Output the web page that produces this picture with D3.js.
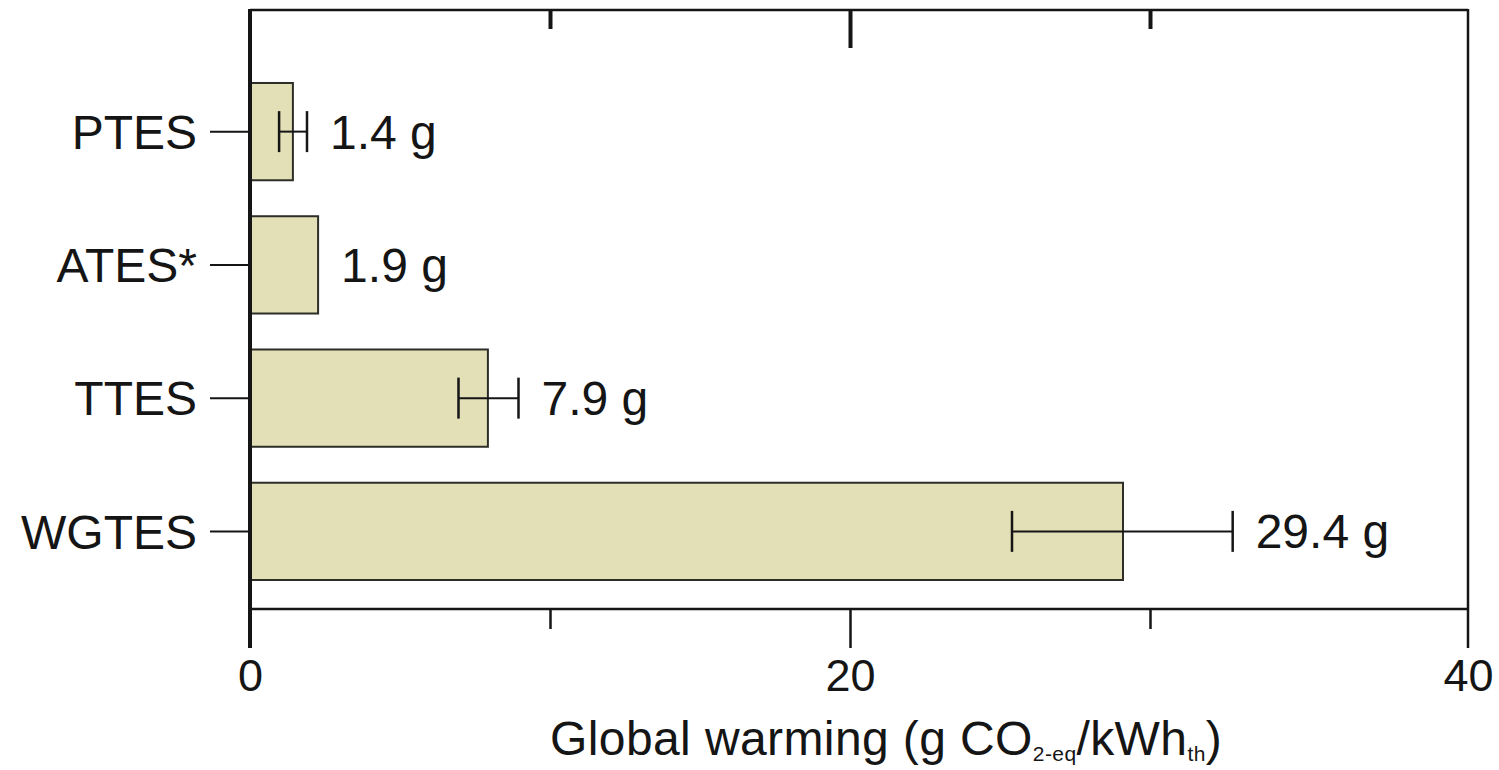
<!DOCTYPE html>
<html><head><meta charset="utf-8">
<script src="https://cdn.jsdelivr.net/npm/d3@7"></script>
<style>
html,body{margin:0;padding:0;background:#fff;}
svg{display:block;font-family:"Liberation Sans",Arial,sans-serif;}
</style></head>
<body><svg id="c" width="1499" height="770"></svg>
<script>
const categories = ["PTES", "ATES*", "TTES", "WGTES"];
const values = [1.43, 2.27, 7.93, 29.1];
const errLow = [0.97, null, 6.95, 25.4];
const errHigh = [1.9, null, 8.95, 32.6];
const valueLabels = ["1.4 g", "1.9 g", "7.9 g", "29.4 g"];
const majorTicks = [0, 20, 40];
const minorTicks = [10, 30];

(function(){
const svg = d3.select("#c");
const x = d3.scaleLinear().domain([0, 30, 40]).range([250, 1150, 1468]);
const y = d3.scaleBand().domain(categories).range([65, 598]).paddingInner(0.27).paddingOuter(0.135);
const yTop = 10, yBottom = 609;
const ink = "#151515";

// bars
svg.selectAll("rect.bar").data(categories).enter().append("rect")
  .attr("class","bar")
  .attr("x", x(0)).attr("y", d => y(d))
  .attr("width", (d,i) => x(values[i]) - x(0))
  .attr("height", y.bandwidth())
  .attr("fill", "#e3dfb6").attr("stroke", "#2e2e28").attr("stroke-width", 2);

// error bars
const eb = categories.map((c,i)=>({c, lo: errLow[i], hi: errHigh[i]})).filter(d => d.lo !== null);
const cy = d => y(d.c) + y.bandwidth()/2;
svg.selectAll("line.err").data(eb).enter().append("line")
  .attr("x1", d => x(d.lo)).attr("x2", d => x(d.hi))
  .attr("y1", cy).attr("y2", cy).attr("stroke", ink).attr("stroke-width", 2);
["lo","hi"].forEach(k => {
  svg.selectAll("line.cap"+k).data(eb).enter().append("line")
    .attr("x1", d => x(d[k])).attr("x2", d => x(d[k]))
    .attr("y1", d => cy(d) - 20.5).attr("y2", d => cy(d) + 20.5)
    .attr("stroke", ink).attr("stroke-width", 2.5);
});

// value labels
svg.selectAll("text.val").data(categories).enter().append("text")
  .attr("x", (d,i) => x(errHigh[i] !== null ? errHigh[i] : values[i]) + 23)
  .attr("y", d => y(d) + y.bandwidth()/2 + 17)
  .attr("font-size", 48).attr("fill", ink)
  .text((d,i) => valueLabels[i]);

// frame lines
svg.append("line").attr("x1", x(0)).attr("x2", x(40)).attr("y1", yTop).attr("y2", yTop).attr("stroke", ink).attr("stroke-width", 2.5);
svg.append("line").attr("x1", x(0)).attr("x2", x(40)).attr("y1", yBottom).attr("y2", yBottom).attr("stroke", ink).attr("stroke-width", 2.5);
svg.append("line").attr("x1", x(40)).attr("x2", x(40)).attr("y1", yTop - 1).attr("y2", 648).attr("stroke", ink).attr("stroke-width", 2.5);
svg.append("line").attr("x1", x(0)).attr("x2", x(0)).attr("y1", yTop - 1).attr("y2", 648).attr("stroke", ink).attr("stroke-width", 4);

// bottom axis ticks & labels
const bAxis = svg.append("g").attr("transform", `translate(0,${yBottom})`)
  .call(d3.axisBottom(x).tickValues(majorTicks).tickSize(39).tickPadding(9).tickFormat(d3.format("d")));
bAxis.select(".domain").remove();
bAxis.selectAll(".tick line").attr("stroke", ink).attr("stroke-width", 2.5);
bAxis.selectAll(".tick text").attr("font-size", 45).attr("fill", ink)
  .attr("font-family", "Liberation Sans, Arial, sans-serif").attr("dy", "0.76em");
bAxis.selectAll(".tick").filter(d => d === 0 || d === 40).select("line").remove();
const bMinor = svg.append("g").attr("transform", `translate(0,${yBottom})`)
  .call(d3.axisBottom(x).tickValues(minorTicks).tickSize(20).tickFormat(""));
bMinor.select(".domain").remove();
bMinor.selectAll(".tick line").attr("stroke", ink).attr("stroke-width", 2.5);

// top axis ticks (inward)
const tAxis = svg.append("g").attr("transform", `translate(0,${yTop})`)
  .call(d3.axisBottom(x).tickValues([20]).tickSize(38).tickFormat(""));
tAxis.select(".domain").remove();
tAxis.selectAll(".tick line").attr("stroke", ink).attr("stroke-width", 4);
const tMinor = svg.append("g").attr("transform", `translate(0,${yTop})`)
  .call(d3.axisBottom(x).tickValues(minorTicks).tickSize(19).tickFormat(""));
tMinor.select(".domain").remove();
tMinor.selectAll(".tick line").attr("stroke", ink).attr("stroke-width", 4);

// left axis categories
const lAxis = svg.append("g").attr("transform", `translate(${x(0)},0)`)
  .call(d3.axisLeft(y).tickSize(40).tickPadding(13));
lAxis.select(".domain").remove();
lAxis.selectAll(".tick line").attr("stroke", ink).attr("stroke-width", 2);
lAxis.selectAll(".tick text").attr("font-size", 48).attr("fill", ink)
  .attr("font-family", "Liberation Sans, Arial, sans-serif").attr("dy", "0.36em");

// axis title
const t = svg.append("text").attr("x", 550).attr("y", 755).attr("font-size", 48)
  .attr("letter-spacing", 0.4).attr("fill", ink);
t.append("tspan").text("Global warming (g CO");
t.append("tspan").attr("font-size", 21).attr("dy", 6).text("2-eq");
t.append("tspan").attr("dy", -6).text("/kWh");
t.append("tspan").attr("font-size", 21).attr("dy", 6).text("th");
t.append("tspan").attr("dy", -6).text(")");
})();
</script></body></html>
